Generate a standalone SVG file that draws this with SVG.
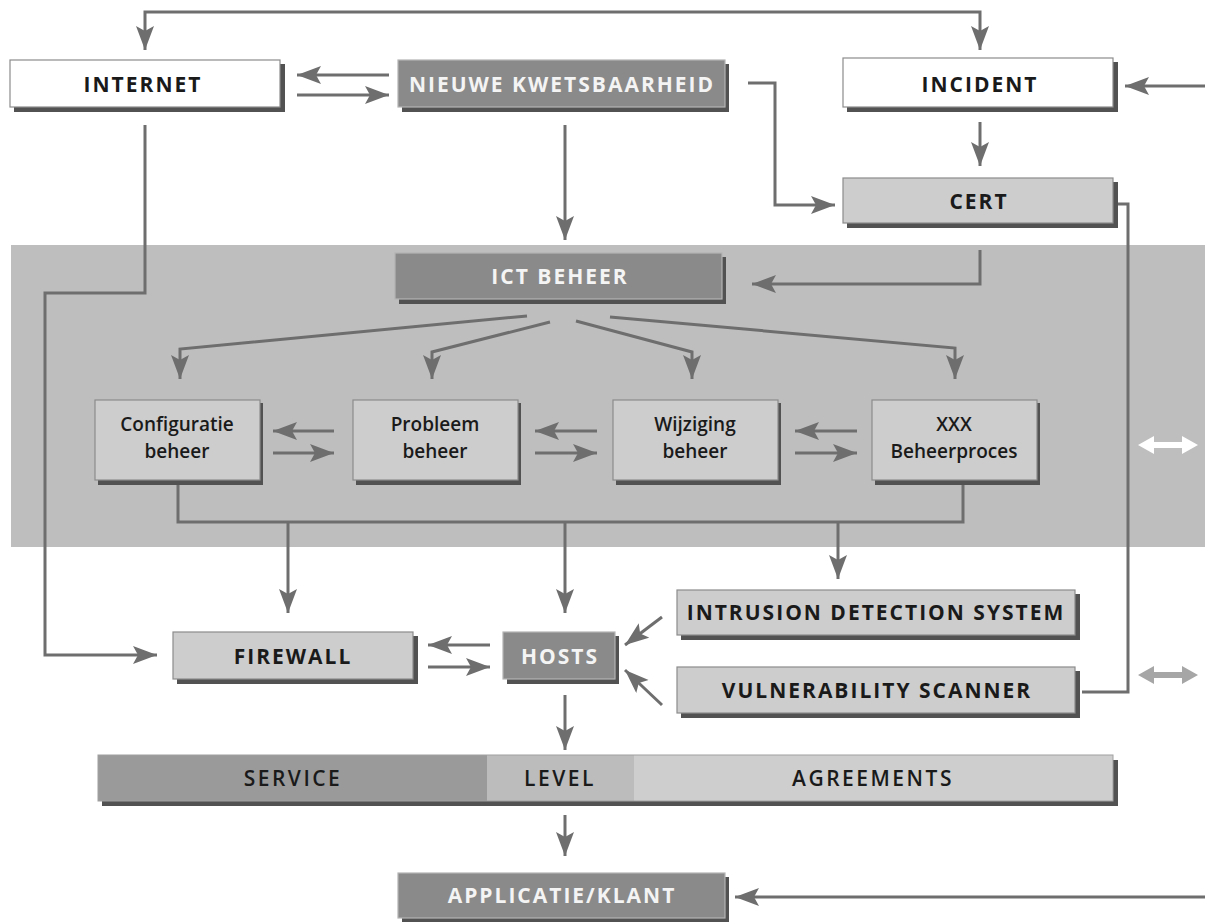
<svg xmlns="http://www.w3.org/2000/svg" width="1205" height="922" viewBox="0 0 1205 922">
  <defs>
    <marker id="head" markerUnits="userSpaceOnUse" markerWidth="26" markerHeight="20" refX="24" refY="9" orient="auto-start-reverse" viewBox="0 0 26 20">
      <path d="M0,0 L24,9 L0,18 L5,9 z" fill="#6e6e6e"/>
    </marker>
    <style>
      .band { fill: #bebebe; }
      .shadow { fill: #525252; }
      .white { fill: #ffffff; stroke: #8c8c8c; stroke-width: 1.2; }
      .light { fill: #cdcdcd; stroke: #8c8c8c; stroke-width: 1.2; }
      .dark { fill: #8a8a8a; stroke: #b4b4b4; stroke-width: 1.2; }
      .wire { fill: none; stroke: #6e6e6e; stroke-width: 3; stroke-linejoin: miter; }
      .arrow { fill: none; stroke: #6e6e6e; stroke-width: 3; marker-end: url(#head); }
      .caps { font-family: "Open Sans", "Liberation Sans", sans-serif; font-weight: 700; font-size: 21px; letter-spacing: 2px; text-anchor: middle; }
      .proc { font-family: "Open Sans", "Liberation Sans", sans-serif; font-weight: 600; font-size: 19px; text-anchor: middle; fill: #1a1a1a; }
      .sla { font-family: "Open Sans", "Liberation Sans", sans-serif; font-weight: 600; font-size: 21px; letter-spacing: 2.5px; text-anchor: middle; fill: #1a1a1a; }
      .ink { fill: #1a1a1a; }
      .inv { fill: #f4f4f4; }
    </style>
  </defs>

  <rect width="1205" height="922" fill="#ffffff"/>

  <!-- management band -->
  <rect class="band" x="11" y="245" width="1194" height="302"/>

  <!-- connectors -->
  <g id="connectors">
    <path class="wire" d="M145,50 L145,12 L980,12 L980,50" marker-start="url(#head)" marker-end="url(#head)"/>
    <path class="arrow" d="M389,75 L297,75"/>
    <path class="arrow" d="M297,95 L389,95"/>
    <path class="arrow" d="M1205,86 L1125,86"/>
    <path class="arrow" d="M748,83 L775,83 L775,205 L835,205"/>
    <path class="arrow" d="M980,122 L980,166"/>
    <path class="wire" d="M1118,204 L1128,204 L1128,692 L1082,692"/>
    <path class="arrow" d="M565,125 L565,240"/>
    <path class="arrow" d="M980,250 L980,284 L752,284"/>
    <path class="arrow" d="M145,125 L145,293 L45,293 L45,655 L157,655"/>

    <!-- ICT beheer fan-out -->
    <path class="arrow" d="M527,316 L180,349 L180,379"/>
    <path class="arrow" d="M550,322 L432,352 L432,379"/>
    <path class="arrow" d="M576,321 L692,352 L692,379"/>
    <path class="arrow" d="M610,317 L955,348 L955,379"/>

    <!-- between processes -->
    <path class="arrow" d="M334,431 L273,431"/>
    <path class="arrow" d="M273,453 L334,453"/>
    <path class="arrow" d="M597,431 L535,431"/>
    <path class="arrow" d="M535,453 L597,453"/>
    <path class="arrow" d="M857,431 L795,431"/>
    <path class="arrow" d="M795,453 L857,453"/>

    <!-- processes collector -->
    <path class="wire" d="M178,485 L178,522 L963,522 L963,485"/>
    <path class="arrow" d="M288,522 L288,613"/>
    <path class="arrow" d="M565,522 L565,613"/>
    <path class="arrow" d="M838,522 L838,579"/>

    <!-- firewall / hosts -->
    <path class="arrow" d="M490,645 L428,645"/>
    <path class="arrow" d="M428,667 L490,667"/>
    <path class="arrow" d="M662,617 L625,645"/>
    <path class="arrow" d="M662,705 L625,670"/>

    <path class="arrow" d="M565,695 L565,750"/>
    <path class="arrow" d="M565,815 L565,856"/>
    <path class="arrow" d="M1205,897 L735,897"/>
  </g>

  <!-- side double arrows -->
  <g id="double-arrows">
    <path d="M1138,445 L1154,436 L1154,442 L1182,442 L1182,436 L1198,445 L1182,454 L1182,448 L1154,448 L1154,454 z" fill="#ffffff"/>
    <path d="M1138,675 L1154,666 L1154,672 L1182,672 L1182,666 L1198,675 L1182,684 L1182,678 L1154,678 L1154,684 z" fill="#a6a6a6"/>
  </g>

  <g id="internet">
    <rect class="shadow" x="14" y="64" width="271" height="48"/>
    <rect class="white" x="10" y="60" width="270" height="47"/>
    <text class="caps ink" x="143" y="92">INTERNET</text>
  </g>

  <g id="nieuwe-kwetsbaarheid">
    <rect class="shadow" x="402" y="64" width="327" height="48"/>
    <rect class="dark" x="398" y="60" width="327" height="47"/>
    <text class="caps inv" x="562" y="92">NIEUWE KWETSBAARHEID</text>
  </g>

  <g id="incident">
    <rect class="shadow" x="847" y="62" width="271" height="50"/>
    <rect class="white" x="843" y="58" width="270" height="49"/>
    <text class="caps ink" x="980" y="92">INCIDENT</text>
  </g>

  <g id="cert">
    <rect class="shadow" x="847" y="182" width="271" height="46"/>
    <rect class="light" x="843" y="178" width="270" height="45"/>
    <text class="caps ink" x="979" y="209">CERT</text>
  </g>

  <g id="ict-beheer">
    <rect class="shadow" x="399" y="257" width="327" height="47"/>
    <rect class="dark" x="395" y="253" width="327" height="46"/>
    <text class="caps inv" x="560" y="284">ICT BEHEER</text>
  </g>

  <g id="configuratie-beheer">
    <rect class="shadow" x="98" y="403" width="165" height="82"/>
    <rect class="light" x="95" y="400" width="165" height="80"/>
    <text class="proc" x="177" y="431">Configuratie</text>
    <text class="proc" x="177" y="458">beheer</text>
  </g>

  <g id="probleem-beheer">
    <rect class="shadow" x="356" y="403" width="165" height="82"/>
    <rect class="light" x="353" y="400" width="165" height="80"/>
    <text class="proc" x="435" y="431">Probleem</text>
    <text class="proc" x="435" y="458">beheer</text>
  </g>

  <g id="wijziging-beheer">
    <rect class="shadow" x="616" y="403" width="165" height="82"/>
    <rect class="light" x="613" y="400" width="165" height="80"/>
    <text class="proc" x="695" y="431">Wijziging</text>
    <text class="proc" x="695" y="458">beheer</text>
  </g>

  <g id="xxx-beheerproces">
    <rect class="shadow" x="875" y="403" width="165" height="82"/>
    <rect class="light" x="872" y="400" width="165" height="80"/>
    <text class="proc" x="954" y="431">XXX</text>
    <text class="proc" x="954" y="458">Beheerproces</text>
  </g>

  <g id="firewall">
    <rect class="shadow" x="177" y="636" width="241" height="48"/>
    <rect class="light" x="173" y="632" width="240" height="47"/>
    <text class="caps ink" x="293" y="664">FIREWALL</text>
  </g>

  <g id="hosts">
    <rect class="shadow" x="507" y="636" width="112" height="48"/>
    <rect class="dark" x="503" y="632" width="112" height="47"/>
    <text class="caps inv" x="560" y="664">HOSTS</text>
  </g>

  <g id="intrusion-detection-system">
    <rect class="shadow" x="681" y="594" width="399" height="46"/>
    <rect class="light" x="677" y="590" width="398" height="45"/>
    <text class="caps ink" x="876" y="620">INTRUSION DETECTION SYSTEM</text>
  </g>

  <g id="vulnerability-scanner">
    <rect class="shadow" x="681" y="671" width="399" height="47"/>
    <rect class="light" x="677" y="667" width="398" height="46"/>
    <text class="caps ink" x="877" y="698">VULNERABILITY SCANNER</text>
  </g>

  <g id="service-level-agreements">
    <rect class="shadow" x="102" y="760" width="1016" height="46"/>
    <rect x="98" y="755" width="389" height="46" fill="#9a9a9a"/>
    <rect x="487" y="755" width="147" height="46" fill="#bcbcbc"/>
    <rect x="634" y="755" width="479" height="46" fill="#cecece"/>
    <rect x="98" y="755" width="1015" height="46" fill="none" stroke="#a0a0a0" stroke-width="1"/>
    <text class="sla" x="293" y="786">SERVICE</text>
    <text class="sla" x="560" y="786">LEVEL</text>
    <text class="sla" x="873" y="786">AGREEMENTS</text>
  </g>

  <g id="applicatie-klant">
    <rect class="shadow" x="402" y="877" width="327" height="46"/>
    <rect class="dark" x="398" y="873" width="327" height="45"/>
    <text class="caps inv" x="562" y="903">APPLICATIE/KLANT</text>
  </g>
</svg>
